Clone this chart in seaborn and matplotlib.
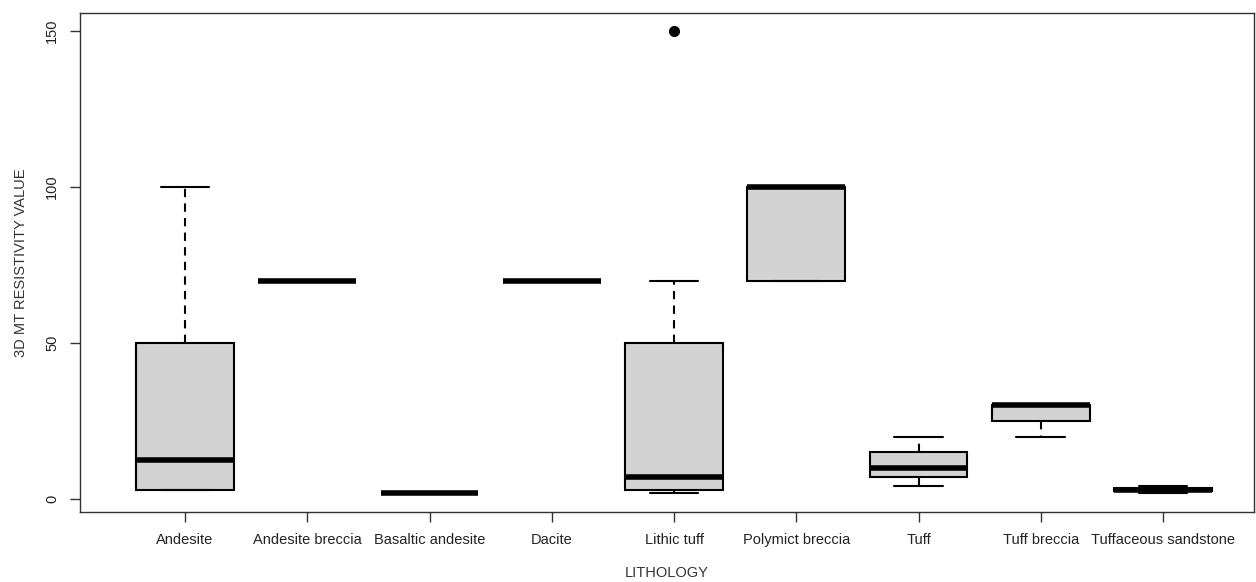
import numpy as np
import pandas as pd
import seaborn as sns
import matplotlib
matplotlib.use('Agg')
import matplotlib.pyplot as plt

# values
lithology = ['Andesite', 'Andesite breccia', 'Basaltic andesite', 'Dacite', 'Lithic tuff',
             'Polymict breccia', 'Tuff', 'Tuff breccia', 'Tuffaceous sandstone']
andesite = [3, 3, 3, 10, 15, 50, 50, 100]
andesite_breccia = [70, 70, 70]
basaltic_andesite = [2, 2, 2]
dacite = [70, 70, 70]
lithic_tuff = [2, 3, 3, 5, 7, 50, 50, 70, 150]
polymict_breccia = [70, 70, 100, 100, 100]
tuff = [4, 7, 10, 15, 20]
tuff_breccia = [20, 25, 30, 30, 30]
tuffaceous_sandstone = [2, 3, 4]

groups = [andesite, andesite_breccia, basaltic_andesite, dacite, lithic_tuff,
          polymict_breccia, tuff, tuff_breccia, tuffaceous_sandstone]
rows = []
for name, vals in zip(lithology, groups):
    for v in vals:
        rows.append({'LITHOLOGY': name, 'RES': v})
df = pd.DataFrame(rows)

sns.set_style('ticks')
plt.rcParams['font.family'] = ['Liberation Sans', 'DejaVu Sans']

fig = plt.figure(figsize=(12.56, 5.82), dpi=100)
ax = fig.add_axes([80 / 1256, 70 / 582, 1174 / 1256, 499 / 582])

sns.boxplot(data=df, x='LITHOLOGY', y='RES', order=lithology, color='#d3d3d3',
            width=0.8, linecolor='black', linewidth=1.5, whis=1.5, ax=ax,
            boxprops=dict(facecolor='#d3d3d3', edgecolor='black'),
            whiskerprops=dict(linestyle=(0, (4, 3)), color='black'),
            capprops=dict(color='black'),
            medianprops=dict(color='black', linewidth=4, solid_capstyle='butt'),
            flierprops=dict(marker='o', markerfacecolor='black', markeredgecolor='black',
                            markersize=7))

ax.set_xlim(-0.859, 8.744)
ax.set_ylim(-4.2, 155.8)
ax.set_yticks([0, 50, 100, 150])
ax.set_yticklabels(['0', '50', '100', '150'], rotation=90, va='center')
for s in ax.spines.values():
    s.set_visible(True)
    s.set_color('#333333')
    s.set_linewidth(1.0)
ax.tick_params(axis='both', direction='out', length=7, width=1, color='#333333',
               labelsize=10.5, labelcolor='#222222', pad=8)
ax.set_xlabel('LITHOLOGY', fontsize=10.5, color='#333333', labelpad=14)
ax.set_ylabel('3D MT RESISTIVITY VALUE', fontsize=10.5, color='#333333', labelpad=12)

fig.savefig('out.png', dpi=100)
